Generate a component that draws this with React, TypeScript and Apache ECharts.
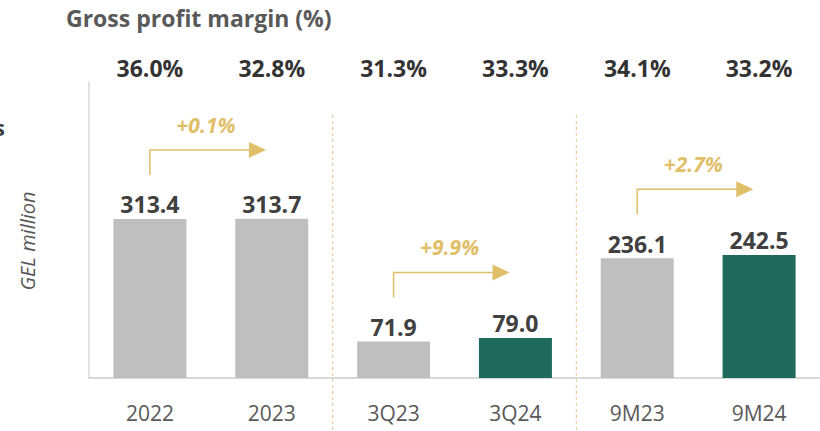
import React, { useEffect, useRef } from "react";
import * as echarts from "echarts";

const categories = ["2022", "2023", "3Q23", "3Q24", "9M23", "9M24"];
const grossProfit = [313.4, 313.7, 71.9, 79.0, 236.1, 242.5];
const highlighted = [false, false, false, true, false, true];
const margins = ["36.0%", "32.8%", "31.3%", "33.3%", "34.1%", "33.2%"];
const growthFrom = [0, 2, 4];
const growthLabels = ["+0.1%", "+9.9%", "+2.7%"];
const separatorsAfter = [1, 3];

const FONT = "'Open Sans', 'Noto Sans', sans-serif";
const GOLD = "#e1be68";
const GRAY_BAR = "#bfbfbf";
const GREEN_BAR = "#1f6a5d";

export default function App() {
  const ref = useRef<HTMLDivElement>(null);

  useEffect(() => {
    if (!ref.current) return;
    const chart = echarts.init(ref.current, null, { renderer: "svg" });

    const option: any = {
      animation: false,
      backgroundColor: "#ffffff",
      grid: { left: 89, top: 82, bottom: 53, width: 741 },
      xAxis: [
        {
          type: "category",
          data: categories,
          axisLine: { show: true, lineStyle: { color: "#d9d9d9", width: 2 } },
          axisTick: { show: false },
          axisLabel: {
            color: "#595959",
            fontFamily: FONT,
            fontSize: 21,
            margin: 24,
          },
        },
        {
          type: "category",
          position: "top",
          data: categories,
          axisLine: { show: false },
          axisTick: { show: false },
          axisLabel: {
            formatter: (_v: string, i: number) => margins[i],
            color: "#333333",
            fontFamily: FONT,
            fontWeight: "bold",
            fontSize: 23,
            margin: 3,
          },
        },
      ],
      yAxis: {
        type: "value",
        min: 0,
        max: 583,
        axisLine: { show: true, lineStyle: { color: "#d9d9d9", width: 1.5 } },
        axisTick: { show: false },
        axisLabel: { show: false },
        splitLine: { show: false },
      },
      series: [
        {
          type: "bar",
          barWidth: 73,
          data: grossProfit.map((v, i) => ({
            value: v,
            itemStyle: { color: highlighted[i] ? GREEN_BAR : GRAY_BAR },
          })),
          label: {
            show: true,
            position: "top",
            distance: 3,
            formatter: (p: any) => p.value.toFixed(1),
            color: "#404040",
            fontFamily: FONT,
            fontWeight: "bold",
            fontSize: 23,
          },
        },
        {
          type: "custom",
          clip: false,
          silent: true,
          data: growthFrom.map((i) => [i, grossProfit[i]]),
          renderItem: (params: any, api: any) => {
            const p = api.coord([api.value(0), api.value(1)]);
            const x0 = p[0];
            const yb = p[1] - 44;
            const yh = yb - 25;
            return {
              type: "group",
              children: [
                {
                  type: "polyline",
                  shape: { points: [[x0, yb], [x0, yh], [x0 + 100, yh]] },
                  style: { stroke: GOLD, lineWidth: 1.5, fill: null },
                },
                {
                  type: "polygon",
                  shape: {
                    points: [
                      [x0 + 99, yh - 8],
                      [x0 + 116, yh],
                      [x0 + 99, yh + 8],
                    ],
                  },
                  style: { fill: GOLD },
                },
                {
                  type: "text",
                  style: {
                    text: growthLabels[params.dataIndex],
                    x: x0 + 56,
                    y: yh - 25,
                    align: "center",
                    verticalAlign: "middle",
                    fill: GOLD,
                    fontFamily: FONT,
                    fontWeight: "bold",
                    fontStyle: "italic",
                    fontSize: 21,
                  },
                },
              ],
            };
          },
        },
        {
          type: "custom",
          clip: false,
          silent: true,
          data: separatorsAfter.map((i) => [i]),
          renderItem: (_params: any, api: any) => {
            const p = api.coord([api.value(0), 518]);
            const band = api.size([1, 0])[0];
            const x = p[0] + band / 2;
            return {
              type: "line",
              shape: { x1: x, y1: p[1], x2: x, y2: api.getHeight() },
              style: { stroke: "#e8c28c", lineWidth: 1, lineDash: [3, 3] },
            };
          },
        },
      ],
      graphic: [
        {
          type: "text",
          left: 66,
          top: 6,
          style: {
            text: "Gross profit margin (%)",
            fill: "#595959",
            fontFamily: FONT,
            fontWeight: "bold",
            fontSize: 23,
          },
        },
        {
          type: "text",
          x: 5,
          y: 127,
          style: {
            text: "s",
            align: "right",
            verticalAlign: "middle",
            fill: "#404040",
            fontFamily: FONT,
            fontWeight: "bold",
            fontSize: 22,
          },
        },
        {
          type: "text",
          x: 27,
          y: 241,
          rotation: Math.PI / 2,
          style: {
            text: "GEL million",
            align: "center",
            verticalAlign: "middle",
            fill: "#595959",
            fontFamily: FONT,
            fontStyle: "italic",
            fontSize: 20,
          },
        },
      ],
    };

    chart.setOption(option);
    return () => chart.dispose();
  }, []);

  return (
    <div
      ref={ref}
      style={{ position: "fixed", left: 0, top: 0, width: 820, height: 431 }}
    />
  );
}
